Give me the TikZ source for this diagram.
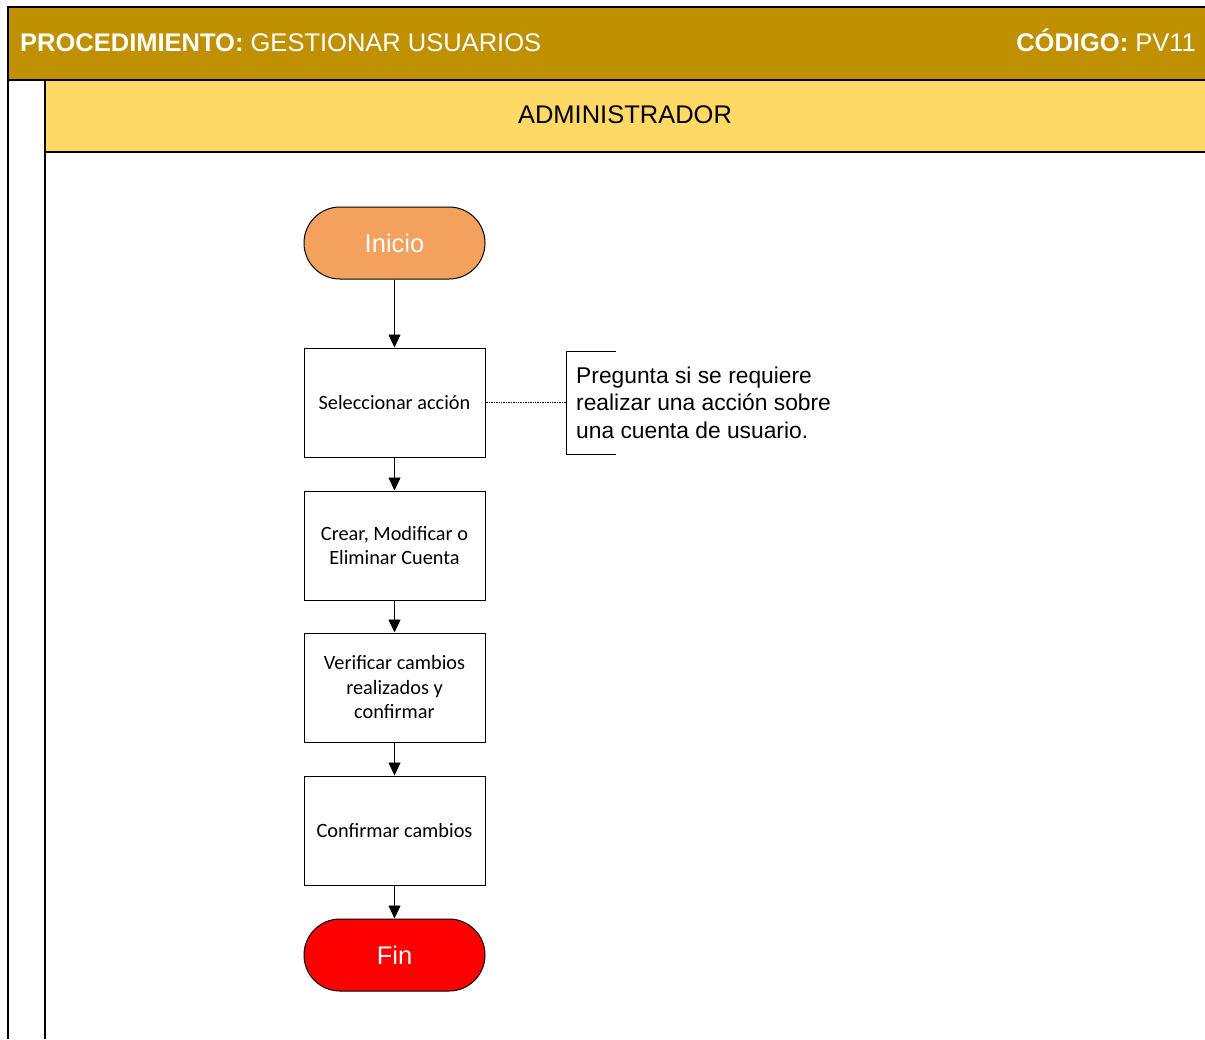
\documentclass[tikz,border=0pt]{standalone}
\usepackage{fontspec}
\setmainfont{Liberation Sans}
\newfontfamily\calfont{Carlito}
\usetikzlibrary{arrows.meta}
\definecolor{gold}{HTML}{BF9000}
\definecolor{laney}{HTML}{FFD966}
\definecolor{startc}{HTML}{F4A15D}
\definecolor{endc}{HTML}{FF0000}
\begin{document}
\begin{tikzpicture}[x=1pt,y=-1pt,
  procbox/.style={draw,line width=1pt,minimum width=181pt,minimum height=109pt,inner sep=2pt,align=center,font=\calfont\fontsize{20.3}{24.5}\selectfont},
  term/.style={draw,line width=1pt,minimum width=181pt,minimum height=72pt,rounded corners=36pt,inner sep=0pt,text=white,font=\fontsize{25.5}{28}\selectfont},
  flow/.style={line width=0.8pt,-{Triangle[length=13pt,width=12pt]}},
  hdr/.style={font=\fontsize{25.5}{28}\selectfont,inner sep=0pt}]
\useasboundingbox (0,0) rectangle (1205,1039);
% header
\fill[gold] (8,7) rectangle (1205,80);
\fill[laney] (45,80) rectangle (1205,152);
\draw[line width=1.5pt] (1205,7) -- (8,7) -- (8,1039);
\draw[line width=1.5pt] (8,80) -- (1205,80);
\draw[line width=1.2pt] (45,80) -- (45,1039);
\draw[line width=1.2pt] (45,152) -- (1205,152);
\node[hdr,anchor=base west,text=white] (title) at (20,51) {\textbf{PROCEDIMIENTO:} GESTIONAR USUARIOS};
\node[hdr,anchor=base east,text=white] (code) at (1196,51) {\textbf{CÓDIGO:} PV11};
\node[hdr,anchor=base] (lane) at (625,123) {ADMINISTRADOR};
% flow
\node[term,fill=startc] (ini) at (394.5,243) {Inicio};
\node[procbox] (sel) at (394.5,402.5) {Seleccionar acción};
\node[procbox] (crear) at (394.5,545.5) {Crear, Modificar o\\Eliminar Cuenta};
\node[procbox] (verif) at (394.5,687.5) {Verificar cambios\\realizados y\\confirmar};
\node[procbox] (conf) at (394.5,830.5) {Confirmar cambios};
\node[term,fill=endc] (fin) at (394.5,955) {Fin};
\draw[flow] (ini) -- (sel);
\draw[flow] (sel) -- (crear);
\draw[flow] (crear) -- (verif);
\draw[flow] (verif) -- (conf);
\draw[flow] (conf) -- (fin);
% annotation
\coordinate (annA) at (566,402.5);
\draw[line width=0.8pt] (616,351) -- (566,351) -- (566,454) -- (616,454);
\node[anchor=west,align=left,inner sep=0pt,font=\fontsize{22.8}{27.5}\selectfont] (note) at (576,402.5) {Pregunta si se requiere\\realizar una acción sobre\\una cuenta de usuario.};
\draw[densely dotted,line width=0.7pt] (sel.east) -- (annA);
\end{tikzpicture}
\end{document}
